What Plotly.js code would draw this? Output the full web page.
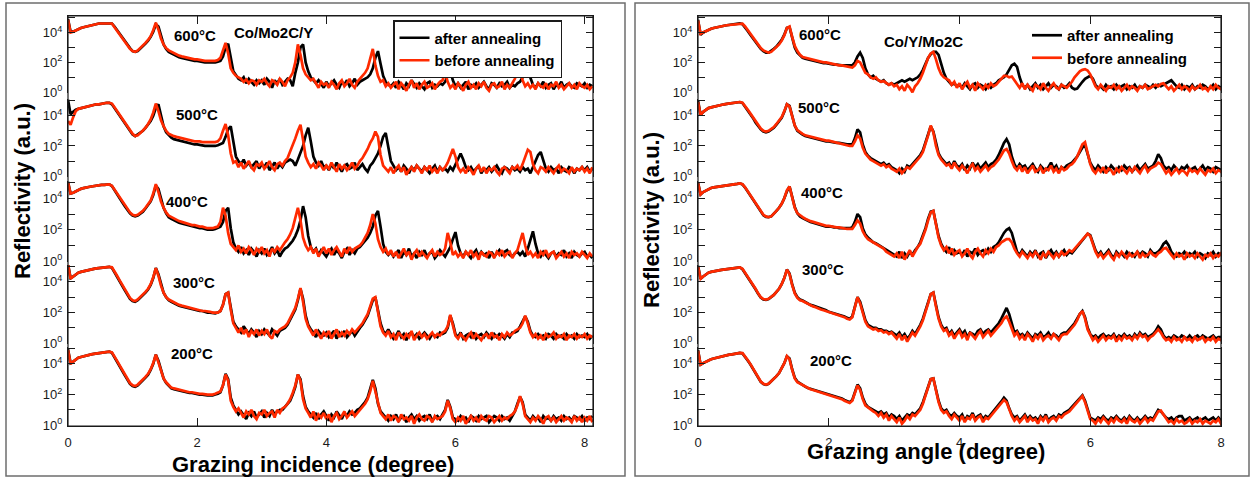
<!DOCTYPE html>
<html>
<head>
<meta charset="utf-8">
<script src="https://cdn.plot.ly/plotly-3.0.1.min.js"></script>
<style>
    html, body { margin: 0; padding: 0; background: #fff; }
    #chart { width: 1251px; height: 477px; }
</style>
</head>
<body>
<div id="chart"></div>
<script>
// scan positions (degree), one reading every 0.04 deg
const angle = Array.from({length: 204}, (_, i) => +(i * 0.04).toFixed(2))

const temps = ["600°C", "500°C", "400°C", "300°C", "200°C"]
const samples = ["Co/Mo2C/Y", "Co/Y/Mo2C"]
const xTitles = ["Grazing incidence (degree)", "Grazing angle (degree)"]
const yTitle = "Reflectivity (a.u.)"
const seriesNames = ["after annealing", "before annealing"]
const xTicks = [0, 2, 4, 6, 8]
const yTicks = [1, 10, 100, 1000, 10000, 100000]
const yTickText = ["10<sup>0</sup>", "", "10<sup>2</sup>", "", "10<sup>4</sup>", ""]

// log10(reflectivity), one row per degree (x.00 .. x.96)
// left panel : Co/Mo2C/Y
const leftAfter600 = [
    4.9,4.05,4.05,4.15,4.25,4.3,4.35,4.4,4.45,4.5,4.5,4.55,4.6,4.6,4.6,4.65,4.65,4.6,4.4,4.15,3.9,3.65,3.4,3.15,2.95,
    2.75,2.7,2.75,2.9,3.05,3.25,3.45,3.7,4.05,4.55,4.4,3.7,3.2,2.9,2.7,2.6,2.5,2.45,2.35,2.3,2.25,2.2,2.2,2.15,2.1,
    2.1,2.05,2.05,2.0,2.0,2.0,1.95,2.0,2.05,2.1,2.4,3.0,3.25,2.2,1.4,1.15,0.9,0.8,1.0,0.6,0.9,0.7,0.5,0.8,0.6,
    0.8,0.5,0.9,0.7,0.3,0.8,0.6,0.9,0.5,0.7,0.9,0.8,0.4,1.3,2.0,3.0,3.2,2.0,1.4,1.0,0.8,0.6,0.8,0.5,0.3,
    0.7,0.4,0.6,0.8,0.5,0.3,0.7,0.5,0.8,0.4,0.6,0.9,0.5,0.7,0.8,0.9,1.0,1.2,1.6,2.3,2.75,1.9,1.1,0.7,0.5,
    0.4,0.6,0.3,0.7,0.5,0.2,0.6,0.4,0.8,0.5,0.3,0.6,0.4,0.2,0.6,0.7,0.3,0.5,0.4,0.6,0.5,0.7,1.1,1.45,0.8,
    0.4,0.6,0.3,0.5,0.7,0.2,0.5,0.4,0.6,0.3,0.5,0.7,0.4,0.2,0.6,0.5,0.3,0.6,0.4,0.5,0.7,0.3,0.5,0.4,0.6,
    0.7,1.0,1.3,1.45,0.9,0.5,0.3,0.6,0.4,0.7,0.3,0.5,0.6,0.2,0.5,0.4,0.7,0.3,0.5,0.6,0.4,0.3,0.6,0.5,0.4,
    0.6,0.3,0.5,0.4
]
const leftBefore600 = [
    4.85,4.0,4.05,4.15,4.25,4.3,4.35,4.4,4.45,4.5,4.5,4.55,4.6,4.6,4.6,4.65,4.65,4.6,4.35,4.1,3.85,3.6,3.35,3.1,2.9,
    2.75,2.7,2.8,2.95,3.1,3.3,3.5,3.75,4.15,4.65,4.2,3.6,3.2,2.95,2.8,2.7,2.6,2.5,2.45,2.4,2.35,2.3,2.3,2.25,2.2,
    2.2,2.15,2.15,2.1,2.1,2.1,2.05,2.1,2.15,2.3,2.8,3.3,2.6,1.6,1.3,1.1,1.0,0.9,0.7,0.85,0.6,0.8,0.75,0.5,0.8,
    0.7,0.9,0.6,0.4,0.8,0.7,0.5,0.9,0.7,0.4,0.8,1.0,1.3,2.0,3.2,2.5,1.6,1.2,1.0,0.8,0.9,0.6,0.3,0.7,0.5,
    0.6,0.3,0.7,0.5,0.2,0.6,0.8,0.4,0.6,0.9,0.5,0.3,0.7,0.9,1.1,1.3,1.6,2.3,2.9,1.8,1.1,0.7,0.8,0.4,0.6,
    0.3,0.5,0.7,0.2,0.6,0.4,0.1,0.5,0.8,0.3,0.6,0.2,0.5,0.7,0.3,0.4,0.6,0.2,0.5,0.7,0.8,1.3,0.7,0.3,0.5,
    0.2,0.6,0.4,0.1,0.5,0.7,0.3,0.5,0.2,0.6,0.4,0.7,0.3,0.1,0.5,0.6,0.3,0.4,0.7,0.2,0.5,0.3,0.6,0.9,1.4,
    1.5,0.8,0.4,0.6,0.3,0.5,0.2,0.6,0.4,0.3,0.6,0.2,0.5,0.4,0.7,0.3,0.5,0.2,0.4,0.6,0.3,0.5,0.2,0.6,0.4,
    0.3,0.5,0.2,0.4
]
const leftAfter500 = [
    5.05,4.1,4.25,4.4,4.45,4.5,4.55,4.6,4.65,4.7,4.7,4.75,4.75,4.8,4.8,4.85,4.85,4.75,4.5,4.25,4.0,3.75,3.45,3.2,2.95,
    2.75,2.65,2.75,2.85,3.0,3.2,3.4,3.65,4.0,4.5,4.75,4.0,3.3,2.9,2.7,2.55,2.45,2.4,2.35,2.3,2.25,2.2,2.2,2.15,2.1,
    2.1,2.05,2.05,2.0,2.0,2.0,2.0,2.0,2.05,2.1,2.2,2.6,3.1,3.3,2.2,1.3,1.0,0.8,1.1,0.7,0.9,0.6,0.8,1.0,0.5,
    0.8,0.6,0.9,0.4,0.7,0.9,0.5,0.8,0.6,0.9,1.0,1.1,1.0,0.7,1.1,1.5,2.0,2.7,3.2,2.3,1.3,0.9,0.7,1.0,0.6,
    0.7,0.4,0.8,0.5,0.9,0.6,0.3,0.7,0.8,0.5,0.6,0.9,0.4,0.6,0.8,0.5,0.3,0.7,0.9,1.2,1.5,2.0,2.6,2.85,1.9,
    1.0,0.7,0.4,0.6,0.3,0.7,0.5,0.2,0.6,0.4,0.7,0.5,0.3,0.6,0.4,0.2,0.5,0.7,0.3,0.6,0.4,0.5,0.3,0.6,0.4,
    0.8,1.1,1.5,1.1,0.6,0.4,0.6,0.3,0.5,0.7,0.2,0.5,0.4,0.6,0.3,0.5,0.7,0.4,0.2,0.6,0.5,0.3,0.6,0.4,0.5,
    0.3,0.6,0.4,0.5,0.2,0.6,1.0,1.4,1.6,1.0,0.5,0.3,0.6,0.4,0.5,0.2,0.6,0.4,0.3,0.6,0.5,0.2,0.5,0.4,0.6,
    0.4,0.6,0.3,0.5
]
const leftBefore500 = [
    3.65,3.4,3.9,4.3,4.45,4.5,4.55,4.6,4.65,4.7,4.7,4.75,4.75,4.8,4.8,4.85,4.85,4.8,4.55,4.3,4.05,3.8,3.5,3.25,3.0,
    2.8,2.65,2.7,2.85,3.0,3.2,3.45,3.75,4.2,4.8,4.3,3.7,3.3,3.0,2.8,2.7,2.65,2.6,2.55,2.5,2.45,2.4,2.4,2.35,2.3,
    2.3,2.3,2.25,2.25,2.2,2.2,2.2,2.25,2.3,2.5,3.0,3.45,2.7,1.5,0.9,1.0,0.6,0.9,0.5,0.8,1.0,0.6,0.4,0.8,0.7,
    0.9,0.5,0.7,1.0,0.6,0.4,0.8,0.9,0.7,1.0,1.2,1.6,2.0,2.5,3.0,3.4,2.4,1.3,0.9,0.6,0.8,0.5,0.9,0.7,0.4,
    0.7,0.5,0.9,0.6,0.3,0.8,0.5,0.7,0.4,0.6,0.9,0.5,0.7,1.0,1.2,1.5,1.8,2.2,2.5,2.95,2.6,1.4,0.7,0.5,0.3,
    0.6,0.2,0.5,0.7,0.3,0.6,0.1,0.4,0.6,0.3,0.7,0.5,0.2,0.6,0.4,0.7,0.3,0.5,0.2,0.6,0.4,0.6,0.9,1.4,1.8,
    1.3,0.6,0.3,0.5,0.2,0.6,0.4,0.1,0.5,0.7,0.3,0.6,0.2,0.5,0.4,0.6,0.3,0.1,0.5,0.6,0.4,0.2,0.6,0.5,0.7,
    0.4,0.8,1.3,1.75,1.6,0.8,0.4,0.2,0.6,0.5,0.3,0.6,0.4,0.2,0.5,0.7,0.3,0.5,0.4,0.2,0.6,0.3,0.5,0.4,0.6,
    0.3,0.5,0.2,0.6
]
const leftAfter400 = [
    5.05,4.3,4.35,4.45,4.55,4.6,4.65,4.7,4.72,4.75,4.78,4.8,4.82,4.85,4.85,4.88,4.88,4.78,4.5,4.25,4.0,3.75,3.5,3.25,3.05,
    2.9,2.85,2.9,3.0,3.15,3.35,3.55,3.8,4.2,4.8,4.6,3.9,3.4,3.05,2.8,2.7,2.6,2.5,2.45,2.4,2.35,2.3,2.25,2.2,2.2,
    2.15,2.1,2.1,2.05,2.0,2.0,2.0,2.05,2.1,2.2,2.5,3.2,3.4,2.1,1.2,0.8,0.6,0.9,0.5,0.7,0.4,0.8,0.6,0.3,0.7,
    0.5,0.8,0.4,0.6,0.9,0.5,0.7,0.3,0.6,0.8,0.9,1.1,1.3,1.6,2.0,2.6,3.5,2.8,1.6,0.9,0.6,0.8,0.4,0.7,0.5,
    0.3,0.6,0.8,0.4,0.7,0.5,0.2,0.6,0.8,0.4,0.7,0.5,0.8,0.9,1.1,1.3,1.5,1.8,2.2,2.9,3.2,2.2,1.1,0.6,0.4,
    0.6,0.3,0.5,0.7,0.2,0.6,0.4,0.8,0.3,0.5,0.2,0.6,0.4,0.7,0.3,0.5,0.6,0.2,0.4,0.7,0.5,0.3,0.6,0.9,1.4,
    1.85,1.0,0.5,0.3,0.6,0.4,0.2,0.5,0.7,0.3,0.6,0.4,0.5,0.2,0.6,0.3,0.5,0.7,0.4,0.6,0.7,0.4,0.3,0.5,0.6,
    0.4,0.6,0.3,0.8,1.3,1.9,1.1,0.5,0.3,0.6,0.4,0.2,0.5,0.6,0.3,0.5,0.4,0.7,0.3,0.5,0.2,0.6,0.4,0.3,0.5,
    0.6,0.3,0.4,0.2
]
const leftBefore400 = [
    5.0,4.3,4.35,4.45,4.55,4.6,4.65,4.7,4.72,4.75,4.78,4.8,4.82,4.85,4.85,4.88,4.88,4.8,4.55,4.3,4.05,3.8,3.55,3.3,3.1,
    2.95,2.9,2.95,3.05,3.2,3.4,3.6,3.85,4.3,4.9,4.4,3.8,3.4,3.1,2.9,2.8,2.7,2.6,2.55,2.5,2.45,2.4,2.35,2.3,2.3,
    2.25,2.2,2.2,2.15,2.1,2.1,2.1,2.15,2.2,2.5,3.4,2.9,1.8,1.1,0.9,0.7,1.0,0.6,0.8,0.5,0.9,0.7,0.4,0.8,0.6,
    0.9,0.5,0.7,0.3,0.8,0.6,0.9,0.7,1.0,1.2,1.4,1.7,2.1,2.7,3.4,2.6,1.5,1.0,0.7,0.9,0.5,0.8,0.3,0.6,0.9,
    0.5,0.8,0.4,0.7,0.9,0.6,0.3,0.8,0.5,0.9,0.6,0.8,0.9,1.0,1.2,1.5,1.8,2.3,3.0,2.4,1.4,0.9,0.6,0.8,0.4,
    0.7,0.3,0.6,0.2,0.5,0.8,0.4,0.6,0.1,0.5,0.7,0.3,0.6,0.4,0.2,0.5,0.7,0.3,0.6,0.4,0.5,0.8,1.8,1.2,0.4,
    0.6,0.3,0.5,0.2,0.6,0.4,0.7,0.3,0.5,0.1,0.6,0.4,0.3,0.6,0.5,0.2,0.6,0.4,0.7,0.3,0.5,0.6,0.2,0.5,0.7,
    1.2,1.8,1.0,0.4,0.6,0.3,0.5,0.2,0.6,0.4,0.7,0.3,0.5,0.6,0.2,0.4,0.6,0.3,0.5,0.2,0.6,0.4,0.5,0.3,0.6,
    0.4,0.2,0.5,0.3
]
const leftAfter300 = [
    5.15,4.25,4.35,4.5,4.6,4.65,4.7,4.75,4.8,4.82,4.85,4.88,4.9,4.92,4.95,4.95,4.98,4.92,4.65,4.35,4.05,3.75,3.45,3.15,2.9,
    2.75,2.7,2.8,2.95,3.1,3.3,3.5,3.8,4.25,4.9,4.5,3.8,3.3,3.0,2.8,2.7,2.6,2.5,2.45,2.4,2.35,2.3,2.25,2.2,2.2,
    2.15,2.1,2.1,2.05,2.0,2.0,1.95,1.95,2.0,2.1,2.5,3.2,3.3,2.3,1.4,1.1,0.9,0.7,1.1,0.8,0.6,0.9,0.7,0.4,0.8,
    0.6,0.9,0.7,0.5,0.9,0.7,0.5,0.8,0.9,1.0,1.2,1.5,1.8,2.2,2.8,3.55,2.9,1.8,1.2,0.9,0.7,0.4,0.8,0.6,0.5,
    0.7,0.4,0.6,0.8,0.3,0.7,0.5,0.8,0.4,0.6,0.8,0.5,0.8,1.0,1.2,1.5,1.8,2.3,2.8,3.0,2.2,1.3,0.8,0.6,0.9,
    0.6,0.3,0.5,0.8,0.4,0.6,0.2,0.6,0.7,0.4,0.6,0.3,0.5,0.7,0.5,0.3,0.6,0.5,0.4,0.7,0.6,0.7,1.0,1.8,1.3,
    0.6,0.4,0.7,0.3,0.5,0.6,0.4,0.7,0.3,0.5,0.6,0.4,0.7,0.5,0.3,0.6,0.4,0.6,0.5,0.3,0.6,0.4,0.7,0.7,0.8,
    1.1,1.4,1.75,1.4,0.8,0.5,0.4,0.6,0.4,0.5,0.3,0.6,0.5,0.3,0.6,0.4,0.5,0.3,0.6,0.4,0.5,0.3,0.6,0.4,0.5,
    0.4,0.6,0.3,0.5
]
const leftBefore300 = [
    5.15,4.2,4.35,4.5,4.6,4.65,4.7,4.75,4.8,4.82,4.85,4.88,4.9,4.92,4.95,4.95,4.98,4.95,4.7,4.4,4.1,3.8,3.5,3.2,2.95,
    2.8,2.75,2.85,3.0,3.15,3.35,3.55,3.85,4.3,4.9,4.4,3.75,3.3,3.0,2.85,2.75,2.65,2.55,2.5,2.45,2.4,2.35,2.3,2.25,2.25,
    2.2,2.15,2.1,2.1,2.05,2.05,2.0,2.0,2.0,2.1,2.5,3.2,3.3,2.2,1.3,1.0,0.7,1.0,0.6,0.9,0.4,0.8,0.6,0.9,0.5,
    0.8,0.6,0.9,0.5,0.3,0.8,0.7,0.9,1.0,1.1,1.3,1.6,1.9,2.3,2.9,3.6,2.7,1.6,1.1,0.8,0.5,0.9,0.6,0.3,0.7,
    0.5,0.8,0.3,0.6,0.9,0.4,0.7,0.5,0.8,0.6,0.9,0.7,0.9,1.1,1.3,1.6,1.9,2.4,2.9,3.0,2.0,1.1,0.7,0.5,0.8,
    0.4,0.6,0.2,0.7,0.5,0.3,0.6,0.4,0.8,0.2,0.5,0.7,0.4,0.6,0.3,0.5,0.7,0.4,0.6,0.5,0.7,0.8,1.1,1.85,1.2,
    0.5,0.3,0.6,0.4,0.2,0.5,0.7,0.3,0.6,0.4,0.2,0.5,0.6,0.3,0.7,0.4,0.5,0.2,0.6,0.4,0.7,0.5,0.6,0.8,0.9,
    1.0,1.3,1.8,1.3,0.7,0.4,0.6,0.3,0.5,0.2,0.6,0.4,0.5,0.7,0.3,0.5,0.4,0.6,0.2,0.5,0.4,0.6,0.3,0.5,0.4,
    0.6,0.3,0.5,0.4
]
const leftAfter200 = [
    4.95,4.05,4.15,4.3,4.4,4.45,4.5,4.55,4.6,4.62,4.65,4.68,4.7,4.72,4.75,4.78,4.8,4.72,4.45,4.15,3.85,3.55,3.25,2.95,2.7,
    2.55,2.5,2.6,2.75,2.9,3.1,3.3,3.6,4.0,4.6,4.2,3.55,3.05,2.75,2.55,2.4,2.35,2.3,2.25,2.2,2.15,2.15,2.1,2.1,2.05,
    2.05,2.0,2.0,1.95,1.95,1.95,1.95,2.0,2.05,2.15,2.6,3.35,3.0,1.8,1.3,1.0,0.7,0.9,0.6,0.4,0.8,0.6,0.9,0.5,0.7,
    0.9,0.5,0.8,0.6,1.0,0.7,0.9,1.0,1.0,1.2,1.4,1.6,2.0,2.5,3.3,3.0,1.9,1.2,0.9,0.7,0.5,0.8,0.4,0.7,0.9,
    0.6,0.3,0.7,0.5,0.9,0.6,0.4,0.8,0.6,0.9,0.7,0.8,1.0,1.1,1.3,1.5,1.8,2.3,2.95,2.4,1.4,0.9,0.7,0.5,0.3,
    0.6,0.4,0.7,0.3,0.5,0.6,0.2,0.5,0.7,0.4,0.6,0.3,0.5,0.6,0.4,0.7,0.3,0.5,0.6,0.4,0.7,1.0,1.65,1.2,0.5,
    0.4,0.3,0.6,0.4,0.5,0.2,0.6,0.5,0.3,0.6,0.4,0.5,0.6,0.2,0.4,0.6,0.5,0.3,0.6,0.4,0.5,0.3,0.6,0.9,1.4,
    1.85,1.5,0.7,0.5,0.3,0.6,0.4,0.5,0.2,0.6,0.4,0.5,0.3,0.6,0.4,0.5,0.3,0.6,0.4,0.5,0.3,0.6,0.5,0.4,0.6,
    0.3,0.5,0.4,0.6
]
const leftBefore200 = [
    4.9,4.0,4.15,4.3,4.4,4.45,4.5,4.55,4.6,4.62,4.65,4.68,4.7,4.72,4.75,4.78,4.8,4.75,4.5,4.2,3.9,3.6,3.3,3.0,2.75,
    2.6,2.55,2.65,2.8,2.95,3.15,3.35,3.65,4.05,4.6,4.1,3.5,3.05,2.8,2.6,2.45,2.4,2.35,2.3,2.25,2.2,2.2,2.15,2.15,2.1,
    2.1,2.05,2.05,2.0,2.0,2.0,2.0,2.05,2.1,2.2,2.6,3.3,2.9,1.6,1.2,0.9,1.1,0.8,0.5,0.9,0.7,1.0,0.6,0.4,0.8,
    0.7,1.0,0.6,0.8,0.9,0.5,1.0,0.8,1.1,1.2,1.4,1.7,2.1,2.6,3.3,2.9,1.7,1.1,0.8,0.5,0.9,0.3,0.7,0.5,0.8,
    0.4,0.7,0.2,0.6,0.8,0.4,0.6,0.9,0.5,0.7,0.9,0.6,0.8,1.0,1.2,1.4,1.7,2.2,2.9,2.2,1.3,0.8,0.6,0.4,0.7,
    0.3,0.6,0.5,0.2,0.7,0.4,0.5,0.3,0.6,0.1,0.5,0.7,0.4,0.3,0.6,0.5,0.2,0.6,0.4,0.5,0.6,0.9,1.6,1.1,0.4,
    0.2,0.5,0.3,0.6,0.1,0.4,0.6,0.3,0.5,0.2,0.6,0.4,0.3,0.6,0.5,0.2,0.4,0.6,0.3,0.5,0.4,0.6,0.7,0.9,1.3,
    1.9,1.4,0.6,0.4,0.2,0.5,0.3,0.6,0.4,0.1,0.5,0.6,0.3,0.5,0.2,0.4,0.6,0.3,0.5,0.4,0.2,0.6,0.3,0.5,0.2,
    0.5,0.3,0.6,0.2
]

// right panel : Co/Y/Mo2C
const rightAfter600 = [
    4.85,3.85,4.0,4.1,4.2,4.25,4.3,4.35,4.4,4.42,4.45,4.48,4.5,4.52,4.55,4.58,4.6,4.55,4.35,4.1,3.85,3.6,3.35,3.1,2.9,
    2.75,2.65,2.65,2.75,2.9,3.05,3.25,3.5,3.85,4.3,4.35,3.65,3.0,2.65,2.45,2.3,2.25,2.2,2.15,2.1,2.05,2.0,2.0,1.95,1.95,
    1.9,1.9,1.85,1.85,1.8,1.8,1.8,1.8,1.8,1.8,2.0,2.4,2.65,2.3,1.6,1.2,1.0,1.1,0.9,0.8,0.7,0.8,0.6,0.5,0.6,
    0.5,0.6,0.7,0.8,0.7,0.8,0.9,0.8,0.9,1.0,1.2,1.5,1.9,2.3,2.55,2.7,2.7,2.5,1.9,1.3,0.9,0.7,0.5,0.6,0.4,
    0.5,0.3,0.6,0.4,0.2,0.5,0.6,0.3,0.5,0.4,0.2,0.5,0.3,0.5,0.6,0.8,0.9,1.0,1.2,1.5,1.8,1.9,1.7,1.0,0.5,
    0.3,0.5,0.2,0.4,0.6,0.3,0.5,0.2,0.4,0.6,0.3,0.5,0.4,0.2,0.5,0.3,0.4,0.6,0.3,0.2,0.25,0.5,0.7,0.9,1.0,
    1.1,0.9,0.5,0.3,0.4,0.2,0.5,0.3,0.4,0.2,0.5,0.3,0.4,0.5,0.2,0.4,0.3,0.5,0.2,0.4,0.3,0.5,0.4,0.3,0.5,
    0.3,0.5,0.4,0.5,0.6,0.75,0.8,0.6,0.4,0.3,0.5,0.2,0.4,0.3,0.5,0.2,0.4,0.3,0.5,0.4,0.2,0.3,0.5,0.2,0.4,
    0.3,0.5,0.2,0.4
]
const rightBefore600 = [
    4.8,3.9,4.0,4.1,4.2,4.25,4.3,4.35,4.4,4.42,4.45,4.48,4.5,4.52,4.55,4.58,4.6,4.58,4.4,4.15,3.9,3.65,3.4,3.15,2.95,
    2.8,2.7,2.65,2.7,2.85,3.0,3.2,3.45,3.8,4.3,4.4,3.7,3.1,2.75,2.5,2.35,2.3,2.25,2.2,2.15,2.1,2.05,2.05,2.0,2.0,
    1.95,1.9,1.9,1.85,1.8,1.8,1.75,1.7,1.7,1.65,1.8,2.1,2.0,1.6,1.3,1.2,1.0,0.9,1.0,0.8,0.7,0.75,0.6,0.5,0.6,
    0.4,0.5,0.2,0.4,0.1,0.5,0.3,0.0,0.4,0.6,0.9,1.3,1.8,2.3,2.6,2.7,2.2,1.6,1.2,1.0,0.9,0.8,0.5,0.7,0.3,
    0.6,0.2,0.5,0.7,0.3,0.5,0.1,0.6,0.4,0.2,0.5,0.3,0.6,0.4,0.5,0.7,0.9,1.1,1.1,1.0,1.05,0.8,0.5,0.3,0.6,
    0.2,0.5,0.3,0.1,0.5,0.4,0.2,0.6,0.3,0.1,0.4,0.6,0.3,0.2,0.5,0.4,0.3,0.5,0.7,1.0,1.2,1.4,1.5,1.55,1.45,
    1.2,0.8,0.4,0.2,0.5,0.3,0.1,0.4,0.3,0.5,0.2,0.4,0.1,0.3,0.5,0.2,0.4,0.3,0.1,0.4,0.3,0.5,0.2,0.3,0.4,
    0.5,0.4,0.55,0.6,0.4,0.2,0.4,0.1,0.3,0.5,0.2,0.4,0.3,0.1,0.4,0.2,0.3,0.5,0.2,0.3,0.1,0.4,0.2,0.5,0.3,
    0.2,0.4,0.1,0.3
]
const rightAfter500 = [
    5.0,4.05,4.25,4.4,4.5,4.55,4.6,4.65,4.7,4.72,4.75,4.78,4.8,4.82,4.85,4.88,4.9,4.83,4.6,4.35,4.1,3.85,3.55,3.3,3.1,
    2.95,2.9,2.95,3.05,3.2,3.4,3.6,3.85,4.25,4.75,4.65,3.95,3.35,3.0,2.85,2.75,2.65,2.6,2.55,2.5,2.45,2.4,2.35,2.35,2.3,
    2.3,2.25,2.25,2.2,2.2,2.15,2.15,2.1,2.1,2.1,2.5,3.1,2.9,2.1,1.6,1.35,1.2,1.1,1.0,0.9,0.8,0.9,0.7,0.8,0.6,
    0.5,0.4,0.2,0.5,0.3,0.7,0.6,0.8,1.0,1.2,1.4,1.7,2.2,2.8,3.3,2.95,2.1,1.5,1.2,1.0,0.8,0.9,0.6,1.0,0.7,
    0.6,0.8,0.4,0.7,0.5,0.9,0.6,0.8,0.5,0.7,0.9,0.6,0.8,0.9,1.1,1.4,1.8,2.2,2.45,2.1,1.3,0.8,0.5,0.8,0.6,
    0.7,0.4,0.6,0.8,0.5,0.3,0.7,0.5,0.4,0.6,0.9,0.5,0.7,0.3,0.6,0.5,0.7,0.8,0.9,1.1,1.3,1.6,1.9,2.05,1.5,
    0.9,0.6,0.4,0.7,0.5,0.3,0.6,0.4,0.7,0.5,0.3,0.6,0.4,0.7,0.5,0.6,0.3,0.5,0.7,0.4,0.6,0.8,0.5,0.6,0.7,
    1.0,1.45,1.2,0.7,0.5,0.6,0.4,0.7,0.5,0.3,0.6,0.5,0.7,0.4,0.5,0.6,0.3,0.5,0.7,0.4,0.6,0.5,0.3,0.6,0.5,
    0.4,0.6,0.5,0.3
]
const rightBefore500 = [
    4.9,4.05,4.25,4.4,4.5,4.55,4.6,4.65,4.7,4.72,4.75,4.78,4.8,4.82,4.85,4.88,4.9,4.85,4.65,4.4,4.15,3.9,3.6,3.35,3.15,
    3.0,2.95,3.0,3.1,3.25,3.45,3.65,3.9,4.3,4.75,4.6,3.9,3.35,3.05,2.9,2.8,2.7,2.65,2.6,2.55,2.5,2.45,2.4,2.4,2.35,
    2.35,2.3,2.25,2.2,2.15,2.1,2.1,2.05,2.0,2.0,2.3,2.7,2.5,1.9,1.5,1.3,1.1,1.0,0.9,0.8,0.7,0.8,0.6,0.7,0.5,
    0.4,0.3,0.5,0.2,0.4,0.6,0.5,0.7,0.9,1.1,1.3,1.6,2.1,2.7,3.35,2.9,2.0,1.4,1.1,0.9,0.7,0.8,0.5,0.9,0.6,
    0.4,0.7,0.5,0.2,0.6,0.8,0.4,0.6,0.3,0.5,0.7,0.4,0.6,0.7,0.9,1.1,1.4,1.7,1.8,1.5,1.0,0.6,0.4,0.7,0.3,
    0.6,0.2,0.5,0.7,0.3,0.4,0.6,0.2,0.5,0.4,0.7,0.3,0.5,0.2,0.6,0.4,0.5,0.7,0.8,1.0,1.3,1.7,2.1,2.25,1.6,
    0.8,0.4,0.2,0.5,0.3,0.6,0.2,0.5,0.4,0.1,0.5,0.3,0.6,0.4,0.2,0.5,0.3,0.6,0.4,0.2,0.5,0.7,0.3,0.5,0.6,
    0.7,0.9,0.8,0.5,0.2,0.4,0.1,0.3,0.5,0.2,0.4,0.3,0.1,0.5,0.3,0.4,0.2,0.5,0.3,0.1,0.4,0.3,0.5,0.2,0.4,
    0.3,0.1,0.4,0.2
]
const rightAfter400 = [
    5.0,4.25,4.4,4.5,4.6,4.65,4.7,4.72,4.75,4.78,4.8,4.82,4.85,4.88,4.9,4.92,4.95,4.88,4.68,4.42,4.18,3.92,3.62,3.37,3.12,
    2.92,2.82,2.8,2.85,3.0,3.2,3.4,3.65,4.0,4.45,4.75,4.1,3.45,3.05,2.85,2.75,2.65,2.55,2.5,2.45,2.4,2.35,2.3,2.25,2.2,
    2.2,2.2,2.15,2.15,2.1,2.1,2.1,2.1,2.1,2.15,2.5,3.0,2.8,2.1,1.7,1.5,1.35,1.2,1.15,1.05,0.9,0.8,0.7,0.6,0.5,
    0.4,0.3,0.6,0.2,0.5,0.3,0.6,0.4,0.7,0.9,1.2,1.6,2.1,2.7,3.15,3.2,2.4,1.6,1.1,0.8,0.6,0.9,0.4,0.7,0.5,
    0.6,0.4,0.7,0.3,0.6,0.5,0.8,0.4,0.6,0.7,0.5,0.8,0.6,0.9,1.0,1.2,1.5,1.8,2.0,2.1,1.8,1.1,0.6,0.4,0.7,
    0.5,0.3,0.6,0.4,0.7,0.3,0.5,0.6,0.2,0.5,0.7,0.4,0.6,0.3,0.5,0.7,0.4,0.6,0.5,0.7,0.9,1.1,1.3,1.55,1.75,
    1.65,1.2,0.7,0.4,0.6,0.3,0.5,0.7,0.4,0.2,0.6,0.4,0.5,0.3,0.6,0.4,0.5,0.3,0.6,0.4,0.6,0.5,0.3,0.7,0.5,
    0.5,0.6,0.8,1.1,1.25,1.0,0.6,0.4,0.3,0.5,0.4,0.6,0.3,0.5,0.4,0.6,0.3,0.5,0.4,0.2,0.5,0.4,0.6,0.3,0.5,
    0.4,0.3,0.5,0.4
]
const rightBefore400 = [
    4.95,4.25,4.4,4.5,4.6,4.65,4.7,4.72,4.75,4.78,4.8,4.82,4.85,4.88,4.9,4.92,4.95,4.9,4.7,4.45,4.2,3.95,3.65,3.4,3.15,
    2.95,2.85,2.8,2.85,3.0,3.2,3.4,3.65,4.0,4.5,4.75,4.0,3.4,3.05,2.9,2.8,2.7,2.6,2.55,2.5,2.45,2.4,2.35,2.3,2.25,
    2.25,2.2,2.2,2.15,2.15,2.1,2.1,2.05,2.05,2.05,2.3,2.6,2.4,1.9,1.6,1.4,1.3,1.2,1.1,1.0,0.9,0.8,0.6,0.5,0.4,
    0.3,0.5,0.2,0.6,0.1,0.4,0.7,0.3,0.6,0.9,1.1,1.5,2.0,2.6,3.1,3.2,2.3,1.5,1.0,0.7,0.9,0.5,0.8,0.4,0.6,
    0.7,0.3,0.5,0.8,0.4,0.2,0.6,0.8,0.5,0.3,0.7,0.5,0.8,0.6,0.9,1.0,1.2,1.3,1.4,1.4,1.2,0.8,0.5,0.3,0.6,
    0.4,0.2,0.5,0.3,0.6,0.4,0.1,0.5,0.3,0.6,0.4,0.2,0.5,0.3,0.6,0.4,0.5,0.7,0.6,0.8,1.0,1.2,1.4,1.6,1.75,
    1.6,1.1,0.6,0.3,0.5,0.2,0.4,0.6,0.3,0.1,0.5,0.3,0.6,0.4,0.2,0.5,0.3,0.4,0.6,0.2,0.5,0.3,0.4,0.6,0.4,
    0.3,0.5,0.6,0.8,0.85,0.6,0.4,0.2,0.5,0.3,0.4,0.1,0.5,0.3,0.4,0.2,0.5,0.3,0.1,0.4,0.3,0.5,0.2,0.4,0.3,
    0.5,0.2,0.4,0.3
]
const rightAfter300 = [
    5.05,4.2,4.35,4.5,4.6,4.65,4.7,4.72,4.75,4.78,4.8,4.82,4.85,4.88,4.9,4.92,4.95,4.83,4.58,4.32,4.07,3.82,3.52,3.22,2.98,
    2.85,2.82,2.88,3.0,3.15,3.35,3.55,3.85,4.25,4.8,4.55,3.85,3.3,3.0,2.85,2.78,2.68,2.6,2.5,2.45,2.4,2.3,2.25,2.2,2.15,
    2.05,2.0,1.95,1.9,1.85,1.8,1.75,1.65,1.6,1.75,2.35,3.0,2.7,2.0,1.5,1.2,1.1,1.0,1.0,0.9,0.9,0.8,0.8,0.7,0.75,
    0.6,0.5,0.7,0.4,0.6,0.3,0.5,0.8,0.6,0.9,1.2,1.6,2.1,2.7,3.2,3.3,2.5,1.7,1.2,0.9,1.0,0.6,0.8,0.5,0.7,
    0.9,0.6,0.8,0.4,0.7,0.6,0.5,0.8,0.9,0.6,0.8,0.9,0.7,0.9,1.1,1.3,1.6,2.0,2.3,1.9,1.2,0.7,0.8,0.5,0.6,
    0.4,0.7,0.5,0.3,0.6,0.5,0.7,0.4,0.5,0.7,0.4,0.6,0.5,0.3,0.6,0.7,0.7,0.9,1.1,1.3,1.6,1.9,2.1,1.7,1.0,
    0.6,0.4,0.5,0.3,0.5,0.6,0.4,0.5,0.4,0.6,0.3,0.5,0.4,0.6,0.4,0.5,0.3,0.6,0.4,0.7,0.5,0.6,0.4,0.5,0.6,
    0.8,1.1,0.9,0.5,0.3,0.4,0.3,0.5,0.4,0.3,0.5,0.4,0.3,0.5,0.3,0.4,0.5,0.3,0.5,0.4,0.3,0.4,0.5,0.3,0.4,
    0.4,0.5,0.3,0.4
]
const rightBefore300 = [
    5.0,4.2,4.35,4.5,4.6,4.65,4.7,4.72,4.75,4.78,4.8,4.82,4.85,4.88,4.9,4.92,4.95,4.85,4.6,4.35,4.1,3.85,3.55,3.25,3.0,
    2.88,2.85,2.9,3.0,3.15,3.35,3.55,3.85,4.25,4.8,4.5,3.8,3.25,2.95,2.8,2.75,2.65,2.55,2.45,2.4,2.35,2.25,2.2,2.15,2.1,
    2.0,1.95,1.9,1.85,1.8,1.75,1.7,1.6,1.55,1.7,2.3,3.0,2.6,1.9,1.4,1.1,1.0,0.9,0.95,0.8,0.85,0.7,0.75,0.6,0.7,
    0.5,0.3,0.6,0.2,0.5,0.1,0.4,0.7,0.5,0.8,1.1,1.5,2.0,2.6,3.2,3.3,2.4,1.6,1.1,0.8,0.9,0.5,0.7,0.3,0.6,
    0.8,0.4,0.6,0.2,0.7,0.5,0.3,0.6,0.8,0.4,0.6,0.8,0.5,0.7,0.9,1.1,1.3,1.6,1.75,1.4,0.9,0.5,0.7,0.3,0.5,
    0.2,0.6,0.4,0.1,0.5,0.3,0.6,0.2,0.4,0.5,0.3,0.6,0.4,0.2,0.5,0.6,0.6,0.8,1.0,1.2,1.5,1.9,2.1,1.6,0.9,
    0.5,0.2,0.4,0.1,0.3,0.5,0.2,0.4,0.3,0.5,0.1,0.4,0.2,0.5,0.3,0.4,0.2,0.5,0.3,0.6,0.4,0.5,0.2,0.4,0.5,
    0.7,0.9,0.7,0.4,0.2,0.3,0.1,0.4,0.2,0.3,0.1,0.4,0.2,0.3,0.1,0.4,0.2,0.3,0.4,0.1,0.3,0.2,0.4,0.1,0.3,
    0.2,0.4,0.1,0.3
]
const rightAfter200 = [
    4.9,3.95,4.05,4.15,4.25,4.3,4.35,4.4,4.45,4.5,4.52,4.55,4.6,4.62,4.65,4.7,4.72,4.68,4.48,4.22,3.97,3.67,3.37,3.07,2.83,
    2.68,2.63,2.7,2.85,3.0,3.2,3.4,3.7,4.05,4.5,4.35,3.65,3.1,2.85,2.72,2.62,2.52,2.43,2.38,2.33,2.28,2.23,2.18,2.13,2.08,
    2.03,1.98,1.93,1.88,1.8,1.75,1.65,1.6,1.5,1.65,2.15,2.65,2.4,1.8,1.4,1.2,1.1,1.0,0.9,0.8,0.9,0.7,0.8,0.5,0.7,
    0.6,0.4,0.6,0.3,0.5,0.7,0.6,0.8,0.7,0.9,1.1,1.5,2.0,2.55,3.0,3.05,2.3,1.6,1.1,0.9,1.0,0.7,0.6,0.8,0.6,
    0.5,0.7,0.3,0.6,0.5,0.8,0.4,0.6,0.7,0.4,0.6,0.5,0.7,0.9,1.1,1.3,1.55,1.8,1.6,1.1,0.7,0.5,0.6,0.3,0.5,
    0.7,0.4,0.6,0.4,0.5,0.3,0.6,0.4,0.7,0.3,0.5,0.6,0.4,0.7,0.6,0.8,0.9,1.0,1.2,1.4,1.6,1.8,1.95,1.6,1.0,
    0.5,0.4,0.3,0.5,0.4,0.6,0.4,0.3,0.5,0.4,0.6,0.4,0.3,0.5,0.3,0.6,0.4,0.3,0.5,0.3,0.4,0.6,0.4,0.5,0.4,
    0.7,1.0,0.9,0.7,0.5,0.4,0.5,0.3,0.5,0.6,0.6,0.3,0.4,0.5,0.3,0.4,0.5,0.3,0.4,0.5,0.3,0.4,0.5,0.3,0.5,
    0.3,0.4,0.5,0.3
]
const rightBefore200 = [
    4.85,3.95,4.05,4.15,4.25,4.3,4.35,4.4,4.45,4.5,4.52,4.55,4.6,4.62,4.65,4.7,4.72,4.7,4.5,4.25,4.0,3.7,3.4,3.1,2.85,
    2.7,2.65,2.7,2.85,3.0,3.2,3.4,3.7,4.05,4.5,4.3,3.6,3.05,2.8,2.7,2.6,2.5,2.4,2.35,2.3,2.25,2.2,2.15,2.1,2.05,
    2.0,1.95,1.9,1.85,1.75,1.7,1.6,1.55,1.45,1.6,2.1,2.6,2.3,1.7,1.3,1.15,1.0,0.9,0.8,0.6,0.8,0.5,0.7,0.3,0.6,
    0.4,0.2,0.5,0.1,0.3,0.6,0.4,0.7,0.6,0.8,1.0,1.4,1.9,2.5,3.0,3.05,2.2,1.5,1.0,0.8,0.9,0.6,0.4,0.7,0.5,
    0.3,0.6,0.2,0.5,0.4,0.7,0.3,0.5,0.6,0.2,0.5,0.4,0.6,0.8,1.0,1.2,1.45,1.65,1.5,1.0,0.6,0.3,0.5,0.2,0.4,
    0.6,0.2,0.5,0.3,0.4,0.1,0.5,0.3,0.6,0.2,0.4,0.5,0.3,0.6,0.5,0.7,0.8,0.9,1.1,1.3,1.5,1.75,1.9,1.5,0.9,
    0.4,0.3,0.1,0.4,0.2,0.5,0.3,0.1,0.4,0.2,0.5,0.3,0.2,0.4,0.1,0.5,0.3,0.2,0.4,0.1,0.3,0.5,0.2,0.4,0.3,
    0.6,0.9,0.95,0.7,0.4,0.2,0.3,0.1,0.4,0.2,0.3,0.1,0.2,0.4,0.1,0.3,0.2,0.4,0.1,0.3,0.2,0.1,0.3,0.2,0.4,
    0.1,0.3,0.2,0.4
]

// rows top to bottom, [after, before]
const panels = [
    [[leftAfter600, leftBefore600], [leftAfter500, leftBefore500], [leftAfter400, leftBefore400],
     [leftAfter300, leftBefore300], [leftAfter200, leftBefore200]],
    [[rightAfter600, rightBefore600], [rightAfter500, rightBefore500], [rightAfter400, rightBefore400],
     [rightAfter300, rightBefore300], [rightAfter200, rightBefore200]]
]

// page geometry in pixels
const W = 1251, H = 477
const px = v => v / W
const py = v => 1 - v / H

const panelX = [[68, 593], [698, 1221]]
const xRange = [[0, 8.13], [0, 8]]
const rowTop = [16, 99, 181, 265, 347]
const rowBottom = [93, 177, 262, 344, 426]
const lineColors = ["#000000", "#ff2a00"]
const fontFamily = "Liberation Sans, Arial, sans-serif"
const ink = "#1a1a1a"

const tempPos = [
    [[195, 36], [197, 115], [187, 201], [194, 282], [192, 353]],
    [[820, 34], [819, 108], [822, 192], [823, 269], [831, 360]]
]
const samplePos = [[273, 33], [923, 42]]
const yTitlePos = [[22, 191], [651, 220]]
const xTitlePos = [[313, 464], [926, 451]]
const legendPos = [[393, 20], [1027, 19]]

const traces = []
const layout = {
    width: W,
    height: H,
    margin: {l: 0, r: 0, t: 0, b: 0},
    paper_bgcolor: "#ffffff",
    plot_bgcolor: "rgba(0,0,0,0)",
    font: {family: fontFamily, color: ink},
    showlegend: true,
    legend: {
        x: px(legendPos[0][0]), y: py(legendPos[0][1]), xanchor: "left", yanchor: "top",
        bgcolor: "#ffffff", bordercolor: ink, borderwidth: 1.5,
        font: {family: fontFamily, size: 15, weight: "bold", color: "#000"},
        tracegroupgap: 0, itemwidth: 30
    },
    legend2: {
        x: px(legendPos[1][0]), y: py(legendPos[1][1]), xanchor: "left", yanchor: "top",
        bgcolor: "rgba(0,0,0,0)", borderwidth: 0,
        font: {family: fontFamily, size: 15, weight: "bold", color: "#000"},
        tracegroupgap: 0, itemwidth: 30
    },
    shapes: [],
    annotations: []
}

for (let p = 0; p < 2; p++) {
    for (let k = 0; k < 5; k++) {
        const n = p * 5 + k + 1
        const suffix = n === 1 ? "" : String(n)

        // black first so the red scan is drawn on top
        for (let s = 0; s < 2; s++) {
            traces.push({
                type: "scatter",
                mode: "lines",
                x: angle,
                y: panels[p][k][s].map(v => Math.pow(10, v)),
                xaxis: "x" + suffix,
                yaxis: "y" + suffix,
                name: seriesNames[s],
                line: {color: lineColors[s], width: 2.7},
                showlegend: k === 0,
                legend: p === 0 ? "legend" : "legend2",
                hoverinfo: "skip"
            })
        }

        const xaxis = {
            domain: [px(panelX[p][0]), px(panelX[p][1])],
            range: xRange[p],
            anchor: "y" + suffix,
            showgrid: false,
            zeroline: false
        }
        if (k === 4) {
            Object.assign(xaxis, {
                tickvals: xTicks, ticks: "inside", ticklen: 8, tickwidth: 1, tickcolor: ink,
                showline: true, linecolor: ink, linewidth: 1.2,
                tickfont: {family: fontFamily, size: 13, color: ink},
                ticklabelstandoff: 4
            })
        } else if (k === 0) {
            Object.assign(xaxis, {
                side: "top", tickvals: xTicks, ticks: "inside", ticklen: 8, tickwidth: 1, tickcolor: ink,
                showticklabels: false, showline: true, linecolor: ink, linewidth: 1.2
            })
        } else {
            xaxis.visible = false
        }
        layout["xaxis" + suffix] = xaxis

        layout["yaxis" + suffix] = {
            domain: [py(rowBottom[k]), py(rowTop[k])],
            anchor: "x" + suffix,
            type: "log",
            range: [-0.05, 5.1],
            tickvals: yTicks,
            ticktext: yTickText,
            ticks: "inside", ticklen: 7, tickwidth: 1, tickcolor: ink,
            showline: true, linecolor: ink, linewidth: 1.2, mirror: "ticks",
            showgrid: false, zeroline: false,
            tickfont: {family: fontFamily, size: 13, color: ink},
            ticklabelstandoff: 2
        }

        layout.annotations.push({
            xref: "paper", yref: "paper",
            x: px(tempPos[p][k][0]), y: py(tempPos[p][k][1]),
            xanchor: "center", yanchor: "middle",
            text: temps[k], showarrow: false,
            font: {family: fontFamily, size: 15, weight: "bold", color: "#000"}
        })
    }

    layout.annotations.push({
        xref: "paper", yref: "paper",
        x: px(samplePos[p][0]), y: py(samplePos[p][1]),
        xanchor: "center", yanchor: "middle",
        text: samples[p], showarrow: false,
        font: {family: fontFamily, size: 15, weight: "bold", color: "#000"}
    })
    layout.annotations.push({
        xref: "paper", yref: "paper",
        x: px(yTitlePos[p][0]), y: py(yTitlePos[p][1]),
        xanchor: "center", yanchor: "middle", textangle: -90,
        text: yTitle, showarrow: false,
        font: {family: fontFamily, size: 22, weight: "bold", color: "#000"}
    })
    layout.annotations.push({
        xref: "paper", yref: "paper",
        x: px(xTitlePos[p][0]), y: py(xTitlePos[p][1]),
        xanchor: "center", yanchor: "middle",
        text: xTitles[p], showarrow: false,
        font: {family: fontFamily, size: 22, weight: "bold", color: "#000"}
    })

    // plot frame, keeps the axis line continuous across the stacked rows
    layout.shapes.push({
        type: "rect", xref: "paper", yref: "paper",
        x0: px(panelX[p][0]), x1: px(panelX[p][1]), y0: py(426), y1: py(16),
        line: {color: ink, width: 1.2}, fillcolor: "rgba(0,0,0,0)"
    })
}

// outer boxes around the two figures
layout.shapes.push(
    {type: "rect", xref: "paper", yref: "paper", x0: px(6), x1: px(625), y0: py(476), y1: py(3),
     line: {color: "#6e6e6e", width: 1.5}},
    {type: "rect", xref: "paper", yref: "paper", x0: px(635), x1: px(1249), y0: py(476), y1: py(3),
     line: {color: "#6e6e6e", width: 1.5}}
)

Plotly.newPlot("chart", traces, layout, {staticPlot: true, displayModeBar: false})

// sanity check on the typed series
const bad = []
panels.forEach((rows, p) => rows.forEach((pair, k) => pair.forEach((arr, s) => {
    if (arr.length !== angle.length) bad.push(`${p}/${temps[k]}/${seriesNames[s]}: ${arr.length}`)
})))
if (bad.length) throw new Error("series length mismatch " + bad.join(", "))
</script>
</body>
</html>
